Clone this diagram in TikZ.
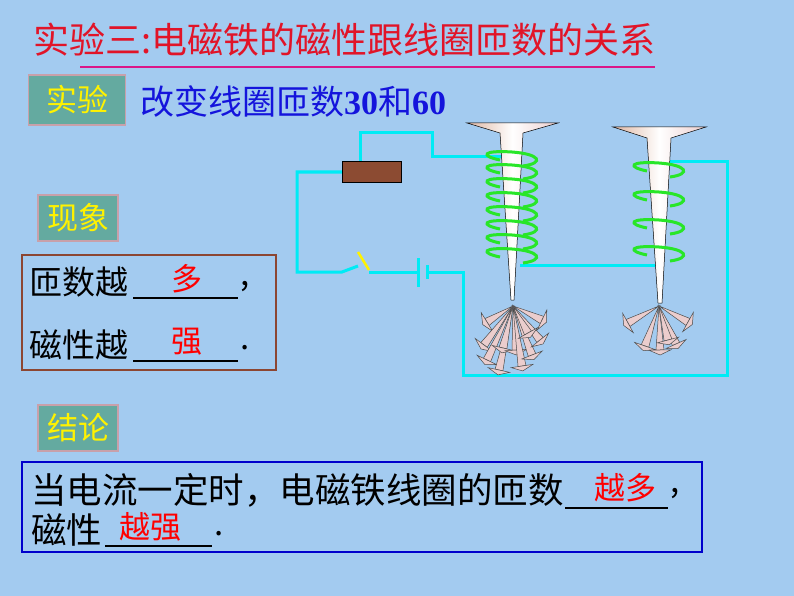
\documentclass[tikz,border=0pt]{standalone}
\usepackage{fontspec}
\setmainfont{Liberation Serif}
\newfontfamily\cjk{Noto Sans CJK SC}
\usetikzlibrary{calc}
\definecolor{bg}{RGB}{163,203,240}
\definecolor{wire}{RGB}{0,235,245}
\definecolor{tealbox}{RGB}{100,170,160}
\definecolor{ttl}{RGB}{225,20,40}
\definecolor{brn}{RGB}{140,70,50}
\definecolor{nailc}{RGB}{235,205,205}
\definecolor{coil}{RGB}{40,230,40}
\tikzset{
  lbl/.style={fill=tealbox,draw={rgb,255:red,200;green,160;blue,170},line width=1.5pt,text=yellow,font=\cjk\fontsize{31}{31}\selectfont,inner sep=0pt,minimum width=80pt,minimum height=46pt},
  txt/.style={font=\cjk\fontsize{33}{35}\selectfont,anchor=west,inner sep=0pt},
  ans/.style={font=\cjk\fontsize{31}{33}\selectfont,text=red,inner sep=0pt},
  wr/.style={wire,line width=3pt},
  cl/.style={coil,line width=3pt},
  nl/.style={fill=nailc,draw=black!70,line width=0.5pt}
}
\newcommand{\nail}[4]{%
  \filldraw[nl] (#1,#2) -- ($(#3,#4)!4pt!90:(#1,#2)$) -- ($(#3,#4)!4pt!-90:(#1,#2)$) -- cycle;
  \filldraw[nl] ($(#3,#4)!11pt!90:(#1,#2)$) -- ($(#3,#4)!11pt!-90:(#1,#2)$) -- ($(#3,#4)!-5pt!(#1,#2)$) -- cycle;}
\begin{document}
\begin{tikzpicture}[x=1pt,y=-1pt]
\fill[bg] (0,0) rectangle (794,596);
\useasboundingbox (0,0) rectangle (794,596);
% title
\node[font=\cjk\fontsize{36}{36}\selectfont,text=ttl,anchor=west,inner sep=0pt] (title) at (33,40) {实验三:电磁铁的磁性跟线圈匝数的关系};
\draw[magenta!80!violet,line width=2.5pt] (80,67) -- (655,67);
\node[lbl,minimum width=97pt,minimum height=50pt] (exp) at (77,100) {实验};
\node[font=\cjk\fontsize{34}{34}\selectfont,text={rgb,255:red,20;green,20;blue,220},anchor=west,inner sep=0pt] (change) at (140,101) {改变线圈匝数{\bfseries\rmfamily 30}和{\bfseries\rmfamily 60}};
\node[lbl] (phen) at (78,218) {现象};
\node[lbl] (conc) at (78,428) {结论};
% phenomenon box
\draw[brn,line width=1.8pt] (22,255) rectangle (276,370);
\node[txt] (p1) at (29,282) {匝数越};
\draw[line width=1.2pt] (133,298) -- (238,298);
\node[ans] (a1) at (187,279) {多};
\node[txt] (c1) at (240,287) {,};
\node[txt] (p2) at (29,345) {磁性越};
\draw[line width=1.2pt] (133,361) -- (238,361);
\node[ans] (a2) at (187,342) {强};
\node[txt] (c2) at (240,348) {.};
% conclusion box
\draw[blue!80!black,line width=1.8pt] (22,462) rectangle (702,552);
\node[txt,font=\cjk\fontsize{35.5}{36}\selectfont] (q1) at (31,490) {当电流一定时，电磁铁线圈的匝数};
\draw[line width=1.2pt] (565,508) -- (668,508);
\node[ans] (b1) at (625,488) {越多};
\node[txt] (d1) at (670,494) {,};
\node[txt,font=\cjk\fontsize{35.5}{36}\selectfont] (q2) at (31,530) {磁性};
\draw[line width=1.2pt] (105,546) -- (212,546);
\node[ans] (b2) at (150,527) {越强};
\node[txt] (d2) at (214,534) {.};
% wires
\draw[wr] (360,162) -- (360,133) -- (432,133) -- (432,157) -- (505,157);
\draw[wr] (342,172) -- (297,172) -- (297,272) -- (342,272) -- (358,266);
\draw[wr] (369,272) -- (418,272);
\draw[wr] (418,258) -- (418,287);
\draw[wr] (427,265) -- (427,279);
\draw[wr] (427,272) -- (463,272) -- (463,375) -- (727,375) -- (727,162) -- (670,162);
\draw[wr] (520,265) -- (655,265);
\draw[yellow,line width=2.5pt] (358,252) -- (369,270);
% resistor
\filldraw[fill={rgb,255:red,140;green,75;blue,50},draw=black,line width=1pt] (342,162) rectangle (401,182);
% magnet 1
\shade[left color=nailc!70!brown,right color=nailc,middle color=white,draw=black,line width=0.5pt] (467,123) -- (558,123) -- (523,133) -- (514,300) -- (511,300) -- (500,133) -- cycle;
% magnet 2
\shade[left color=nailc!70!brown,right color=nailc,middle color=white,draw=black,line width=0.5pt] (613,127) -- (706,127) -- (671,138) -- (662,303) -- (658,303) -- (647,138) -- cycle;
% coils
\foreach \y in {160,173,187,201,215,229,243,257}
  \draw[cl] (500,\y) .. controls (480,\y-4) and (482,\y-10) .. (512,\y-8) .. controls (540,\y-6) and (545,\y+3) .. (523,\y+6);
\foreach \y in {171,200,228,255}
  \draw[cl] (647,\y) .. controls (627,\y-4) and (629,\y-10) .. (659,\y-8) .. controls (687,\y-6) and (692,\y+3) .. (670,\y+6);
% nails 1
\nail{513}{306}{487}{322}
\nail{513}{306}{484}{345}
\nail{513}{306}{487}{360}
\nail{513}{306}{499}{370}
\nail{513}{306}{503}{348}
\nail{513}{306}{516}{350}
\nail{513}{306}{522}{366}
\nail{513}{306}{532}{355}
\nail{513}{306}{540}{340}
\nail{513}{306}{542}{320}
\nail{513}{306}{528}{333}
% nails 2
\nail{659}{306}{628}{323}
\nail{659}{306}{645}{346}
\nail{659}{306}{660}{350}
\nail{659}{306}{676}{344}
\nail{659}{306}{688}{322}
\nail{659}{306}{668}{340}
\end{tikzpicture}
\end{document}
